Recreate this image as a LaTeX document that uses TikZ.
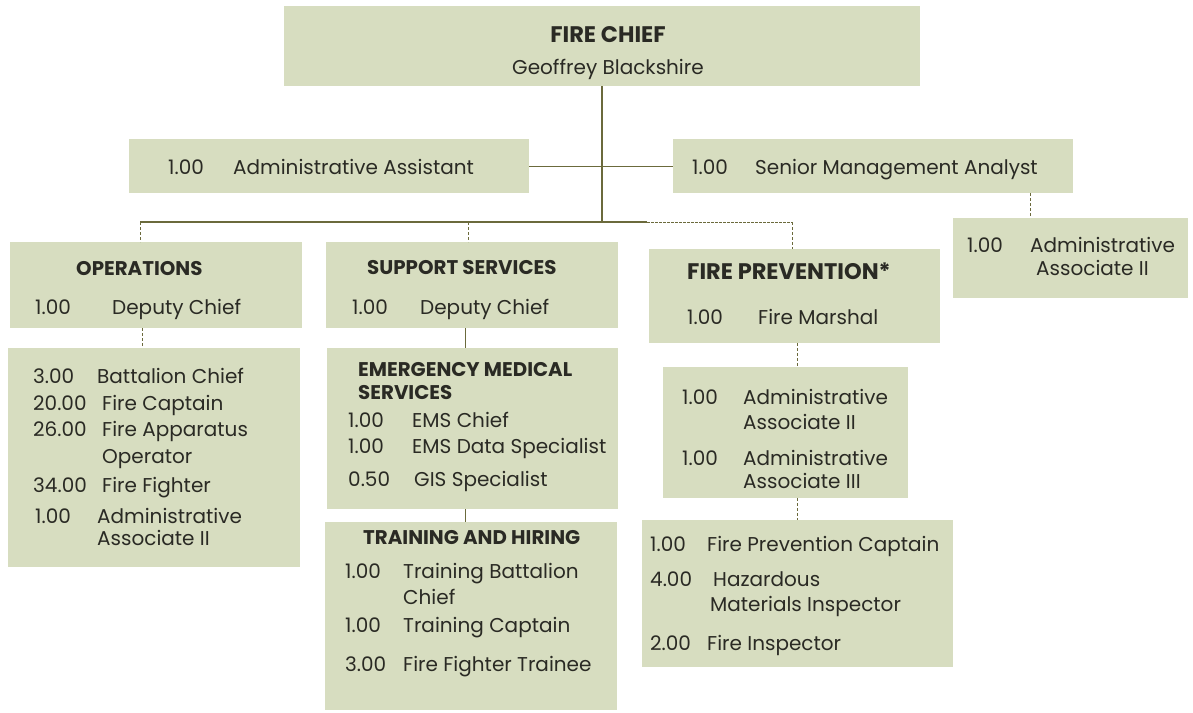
\documentclass[tikz,border=0pt]{standalone}
\usepackage{fontspec}
\setmainfont{Poppins}
\definecolor{boxfill}{HTML}{D7DDC0}
\definecolor{linecol}{HTML}{6B6A3C}
\definecolor{txt}{HTML}{2A2A24}
\begin{document}
\begin{tikzpicture}[x=1pt,y=-1pt,
  box/.style={fill=boxfill, draw=none, anchor=north west, inner sep=0pt},
  tx/.style={anchor=mid west, inner sep=0pt, yshift=-6pt, text=txt, font=\fontsize{20}{22}\selectfont},
  hd/.style={anchor=mid west, inner sep=0pt, yshift=-6pt, text=txt, font=\fontsize{19.8}{22}\selectfont\bfseries},
  ctr/.style={anchor=mid, inner sep=0pt, yshift=-7pt, text=txt},
  solidln/.style={draw=linecol, line width=1.1pt},
  dashln/.style={draw=linecol, line width=0.9pt, dash pattern=on 3pt off 2pt},
  dotln/.style={draw=linecol, line width=1pt, dash pattern=on 2.5pt off 1.5pt}]
\useasboundingbox (0,0) rectangle (1193,712);
% boxes
\node[box, minimum width=636, minimum height=80] (chief) at (284,6) {};
\node[box, minimum width=400, minimum height=54] (aa) at (129,139) {};
\node[box, minimum width=400, minimum height=54] (sma) at (673,139) {};
\node[box, minimum width=292, minimum height=86] (ops) at (10,242) {};
\node[box, minimum width=292, minimum height=219] (opsst) at (8,348) {};
\node[box, minimum width=292, minimum height=86] (sup) at (326,242) {};
\node[box, minimum width=291, minimum height=161] (ems) at (327,348) {};
\node[box, minimum width=292, minimum height=188] (trn) at (325,522) {};
\node[box, minimum width=291, minimum height=94] (fp) at (649,249) {};
\node[box, minimum width=245, minimum height=131] (fpa) at (663,367) {};
\node[box, minimum width=311, minimum height=147] (fps) at (642,520) {};
\node[box, minimum width=235, minimum height=80] (smaa) at (953,218) {};
% connectors
\coordinate (busL) at (140,222);
\coordinate (busC) at (602,222);
\coordinate (busD) at (647,222);
\coordinate (busR) at (792,222);
\coordinate (busS) at (468,222);
\draw[solidln] (chief.south -| busC) -- (busC);
\draw[solidln] (aa.east) -- (sma.west);
\draw[solidln] (busL) -- (busD);
\draw[dotln] (busD) -- (busR);
\draw[dashln] (busL) -- (busL |- ops.north);
\draw[dashln] (busS) -- (busS |- sup.north);
\draw[dashln] (busR) -- (busR |- fp.north);
\coordinate (c1) at (142,0);
\draw[dashln] (c1 |- ops.south) -- (c1 |- opsst.north);
\coordinate (c2) at (465,0);
\draw[solidln, line width=0.9pt] (c2 |- sup.south) -- (c2 |- ems.north);
\draw[solidln, line width=0.9pt] (c2 |- ems.south) -- (c2 |- trn.north);
\coordinate (c3) at (797,0);
\draw[dashln] (c3 |- fp.south) -- (c3 |- fpa.north);
\draw[dashln] (c3 |- fpa.south) -- (c3 |- fps.north);
\coordinate (c4) at (1030,0);
\draw[dashln] (c4 |- sma.south) -- (c4 |- smaa.north);
% chief text
\node[ctr, font=\fontsize{22.5}{24}\selectfont\bfseries] (t1) at (608,33) {FIRE CHIEF};
\node[ctr, font=\fontsize{20}{22}\selectfont] (t2) at (608,65) {Geoffrey Blackshire};
% admin assistant / sma
\node[tx] (t3) at (168,166) {1.00};
\node[tx] (t4) at (233,166) {Administrative Assistant};
\node[tx] (t5) at (692,166) {1.00};
\node[tx] (t6) at (755,166) {Senior Management Analyst};
% sma associate
\node[tx] (t7) at (967,244) {1.00};
\node[tx] (t8) at (1030,244) {Administrative};
\node[tx] (t9) at (1036,267) {Associate II};
% operations
\node[hd] (t10) at (76,267) {OPERATIONS};
\node[tx] (t11) at (35,306) {1.00};
\node[tx] (t12) at (112,306) {Deputy Chief};
\node[tx] (t13) at (33,375) {3.00};
\node[tx] (t14) at (97,375) {Battalion Chief};
\node[tx] (t15) at (33,402) {20.00};
\node[tx] (t16) at (102,402) {Fire Captain};
\node[tx] (t17) at (33,428) {26.00};
\node[tx] (t18) at (102,428) {Fire Apparatus};
\node[tx] (t19) at (102,455) {Operator};
\node[tx] (t20) at (33,484) {34.00};
\node[tx] (t21) at (102,484) {Fire Fighter};
\node[tx] (t22) at (35,515) {1.00};
\node[tx] (t23) at (97,515) {Administrative};
\node[tx] (t24) at (97,537) {Associate II};
% support
\node[hd] (t25) at (367,266) {SUPPORT SERVICES};
\node[tx] (t26) at (352,306) {1.00};
\node[tx] (t27) at (420,306) {Deputy Chief};
% EMS
\node[hd] (t28) at (358,368) {EMERGENCY MEDICAL};
\node[hd] (t29) at (358,391) {SERVICES};
\node[tx] (t30) at (348,419) {1.00};
\node[tx] (t31) at (412,419) {EMS Chief};
\node[tx] (t32) at (348,445) {1.00};
\node[tx] (t33) at (412,445) {EMS Data Specialist};
\node[tx] (t34) at (348,478) {0.50};
\node[tx] (t35) at (414,478) {GIS Specialist};
% training
\node[hd] (t36) at (363,536) {TRAINING AND HIRING};
\node[tx] (t37) at (345,570) {1.00};
\node[tx] (t38) at (403,570) {Training Battalion};
\node[tx] (t39) at (403,596) {Chief};
\node[tx] (t40) at (345,624) {1.00};
\node[tx] (t41) at (403,624) {Training Captain};
\node[tx] (t42) at (345,663) {3.00};
\node[tx] (t43) at (403,663) {Fire Fighter Trainee};
% fire prevention
\node[hd, font=\fontsize{22.5}{24}\selectfont\bfseries] (t44) at (687,271) {FIRE PREVENTION*};
\node[tx] (t45) at (687,316) {1.00};
\node[tx] (t46) at (758,316) {Fire Marshal};
\node[tx] (t47) at (682,396) {1.00};
\node[tx] (t48) at (743,396) {Administrative};
\node[tx] (t49) at (743,421) {Associate II};
\node[tx] (t50) at (682,457) {1.00};
\node[tx] (t51) at (743,457) {Administrative};
\node[tx] (t52) at (743,480) {Associate III};
\node[tx] (t53) at (650,543) {1.00};
\node[tx] (t54) at (707,543) {Fire Prevention Captain};
\node[tx] (t55) at (650,578) {4.00};
\node[tx] (t56) at (713,578) {Hazardous};
\node[tx] (t57) at (710,603) {Materials Inspector};
\node[tx] (t58) at (650,642) {2.00};
\node[tx] (t59) at (707,642) {Fire Inspector};
\end{tikzpicture}
\end{document}
